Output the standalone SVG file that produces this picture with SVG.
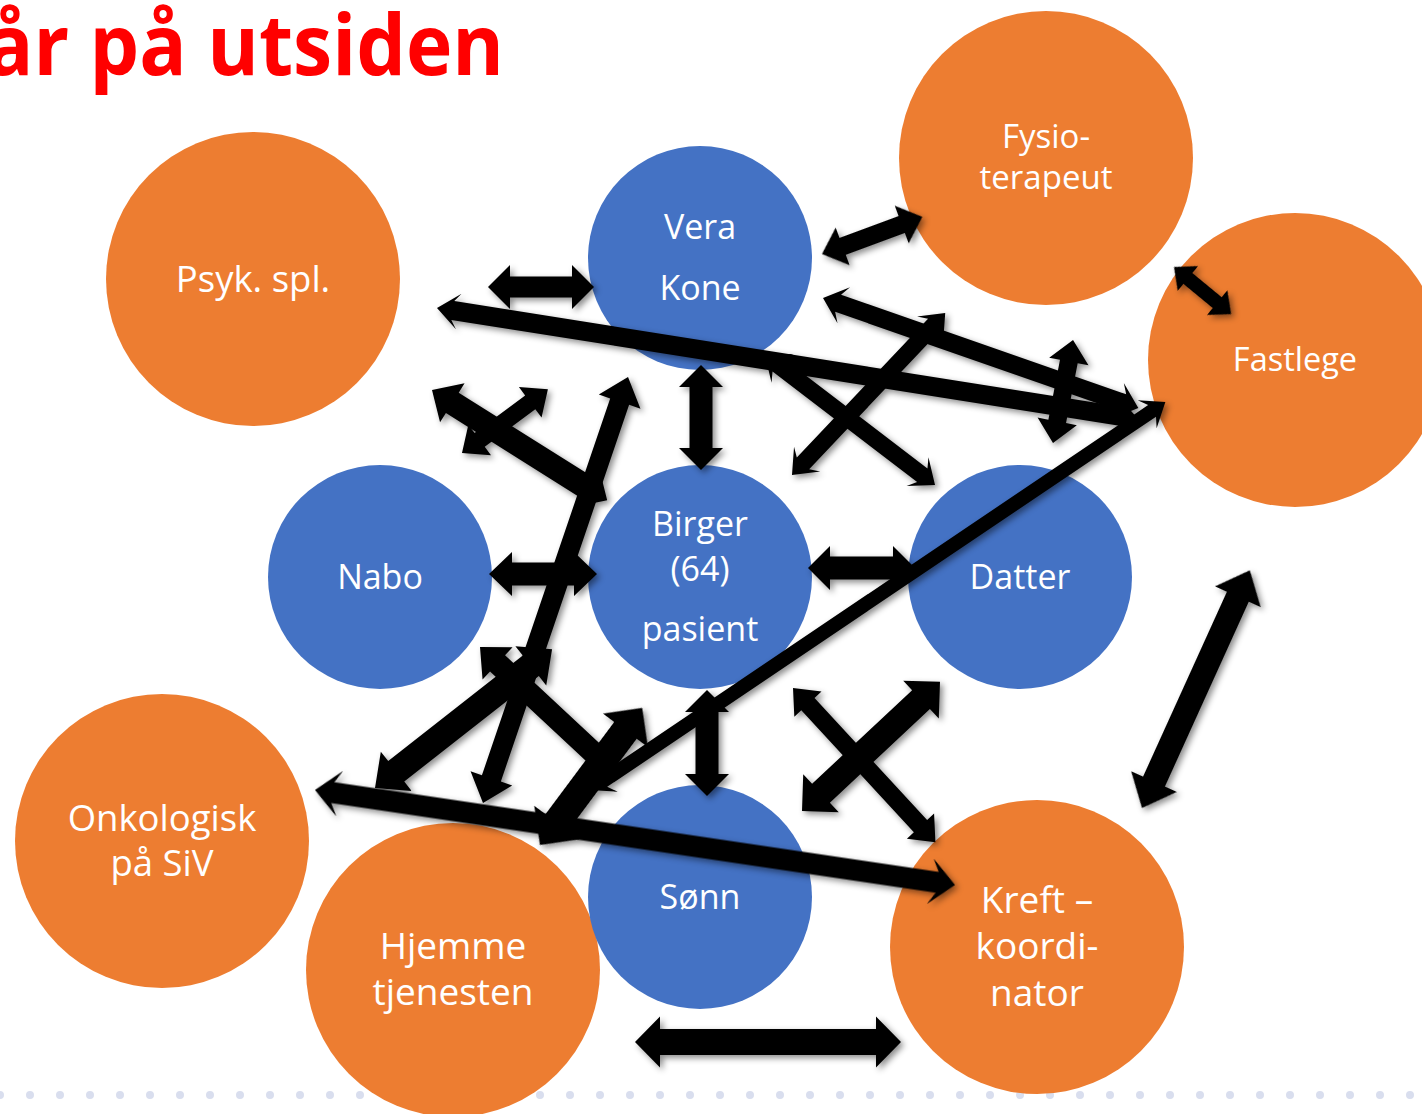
<svg xmlns="http://www.w3.org/2000/svg" width="1422" height="1114" viewBox="0 0 1422 1114">
<style>
.blue{fill:#4472C4}
.orange{fill:#ED7D31}
.lbl{font-family:"Open Sans","Liberation Sans",sans-serif;font-size:34px;fill:#FFFFFF;text-anchor:middle}
.big{font-size:37px}
.mid{font-size:36.5px}
.sm{font-size:33px}
.xs{font-size:32.5px}
.title{font-family:"Open Sans","Liberation Sans",sans-serif;font-weight:bold;font-size:84px;fill:#FF0000}
.arr path{fill:#000000}
</style>
<defs>
<filter id="sh" x="-10%" y="-10%" width="120%" height="120%">
<feDropShadow dx="3" dy="3" stdDeviation="3" flood-color="#000" flood-opacity="0.45"/>
</filter>
</defs>
<rect width="1422" height="1114" fill="#FFFFFF"/>
<line x1="0" y1="1095" x2="1422" y2="1095" stroke="#D9DEEE" stroke-width="8" stroke-linecap="round" stroke-dasharray="0 30"/>
<text class="title" x="-14" y="75" textLength="518" lengthAdjust="spacingAndGlyphs">år på utsiden</text>

<g id="node-psyk"><circle class="orange" cx="253" cy="279" r="147"/><text class="lbl mid" x="253" y="292">Psyk. spl.</text></g>
<g id="node-vera"><circle class="blue" cx="700" cy="258" r="112"/><text class="lbl" x="700" y="239">Vera</text><text class="lbl" x="700" y="300">Kone</text></g>
<g id="node-fysio"><circle class="orange" cx="1046" cy="158" r="147"/><text class="lbl sm" x="1046" y="148">Fysio-</text><text class="lbl sm" x="1046" y="189">terapeut</text></g>
<g id="node-fastlege"><circle class="orange" cx="1295" cy="360" r="147"/><text class="lbl xs" x="1295" y="371">Fastlege</text></g>
<g id="node-nabo"><circle class="blue" cx="380" cy="577" r="112"/><text class="lbl" x="380" y="589">Nabo</text></g>
<g id="node-birger"><circle class="blue" cx="700" cy="577" r="112"/><text class="lbl" x="700" y="536">Birger</text><text class="lbl" x="700" y="581">(64)</text><text class="lbl" x="700" y="641">pasient</text></g>
<g id="node-datter"><circle class="blue" cx="1020" cy="577" r="112"/><text class="lbl" x="1020" y="589">Datter</text></g>
<g id="node-onkologisk"><circle class="orange" cx="162" cy="841" r="147"/><text class="lbl mid" x="162" y="831">Onkologisk</text><text class="lbl mid" x="162" y="876">på SiV</text></g>
<g id="node-hjemme"><circle class="orange" cx="453" cy="970" r="147"/><text class="lbl big" x="453" y="959">Hjemme</text><text class="lbl big" x="453" y="1005">tjenesten</text></g>
<g id="node-sonn"><circle class="blue" cx="700" cy="897" r="112"/><text class="lbl" x="700" y="909">Sønn</text></g>
<g id="node-kreft"><circle class="orange" cx="1037" cy="947" r="147"/><text class="lbl big" x="1037" y="913">Kreft –</text><text class="lbl big" x="1037" y="959">koordi-</text><text class="lbl big" x="1037" y="1006">nator</text></g>

<g id="connectors" class="arr" filter="url(#sh)">
<path transform="translate(488 287)" d="M0 0L22 -22L22 -10.5L84 -10.5L84 -22L106 0L84 22L84 10.5L22 10.5L22 22Z"/>
<path transform="translate(822 254) rotate(-20.3)" d="M0 0L22 -20L22 -9L85 -9L85 -20L107 0L85 20L85 9L22 9L22 20Z"/>
<path transform="translate(1174 267) rotate(39.5)" d="M0 0L18 -16L18 -7L56 -7L56 -16L74 0L56 16L56 7L18 7L18 16Z"/>
<path transform="translate(701 365) rotate(90)" d="M0 0L22 -22L22 -11.5L83 -11.5L83 -22L105 0L83 22L83 11.5L22 11.5L22 22Z"/>
<path transform="translate(489 574)" d="M0 0L23 -22L23 -11.5L85 -11.5L85 -22L108 0L85 22L85 11.5L23 11.5L23 22Z"/>
<path transform="translate(808 568)" d="M0 0L22 -22L22 -11.5L85 -11.5L85 -22L107 0L85 22L85 11.5L22 11.5L22 22Z"/>
<path transform="translate(707 690) rotate(90)" d="M0 0L22 -22L22 -11.5L84 -11.5L84 -22L106 0L84 22L84 11.5L22 11.5L22 22Z"/>
<path transform="translate(635 1042)" d="M0 0L25 -25.5L25 -13L241 -13L241 -25.5L266 0L241 25.5L241 13L25 13L25 25.5Z"/>
<path transform="translate(1142 808) rotate(-65.6)" d="M0 0L29 -25L29 -12L232 -12L232 -25L261 0L232 25L232 12L29 12L29 25Z"/>
<path transform="translate(793 688) rotate(47.3)" d="M0 0L22 -18.5L22 -9L188 -9L188 -18.5L210 0L188 18.5L188 9L22 9L22 18.5Z"/>
<path transform="translate(802 811) rotate(-43.1)" d="M0 0L26 -26L26 -13L163 -13L163 -26L189 0L163 26L163 13L26 13L26 26Z"/>
<path transform="translate(462 453) rotate(-36.6)" d="M0 0L22 -19L22 -8.5L85 -8.5L85 -19L107 0L85 19L85 8.5L22 8.5L22 19Z"/>
<path transform="translate(432 390) rotate(32.2)" d="M0 0L24 -23L24 -12L183 -12L183 -23L207 0L183 23L183 12L24 12L24 23Z"/>
<path transform="translate(483 803) rotate(-71.2)" d="M0 0L26 -22L26 -10L424 -10L424 -22L450 0L424 22L424 10L26 10L26 22Z"/>
<path transform="translate(1053 443) rotate(-79)" d="M0 0L22 -20L22 -9L83 -9L83 -20L105 0L83 20L83 9L22 9L22 20Z"/>
<path transform="translate(437 308) rotate(9.0)" d="M0 0L22 -18L16 -9.5L694 -9.5L688 -18L710 0L688 18L694 9.5L16 9.5L22 18Z"/>
<path transform="translate(823 298) rotate(19.25)" d="M0 0L22 -19L16 -9L318 -9L312 -19L334 0L312 19L318 9L16 9L22 19Z"/>
<path transform="translate(792 475) rotate(-46.6)" d="M0 0L22 -18L16 -8.5L207 -8.5L201 -18L223 0L201 18L207 8.5L16 8.5L22 18Z"/>
<path transform="translate(765 355) rotate(37.4)" d="M0 0L22 -18L16 -8.5L198 -8.5L192 -18L214 0L192 18L198 8.5L16 8.5L22 18Z"/>
<path transform="translate(590 790) rotate(-34.0)" d="M0 0L22 -17L16 -7L678 -7L672 -17L694 0L672 17L678 7L16 7L22 17Z"/>
<path transform="translate(480 647) rotate(43)" d="M0 0L24 -22L24 -11L156 -11L156 -22L180 0L156 22L156 11L24 11L24 22Z"/>
<path transform="translate(375 788) rotate(-38.1)" d="M0 0L27 -25L27 -13L198 -13L198 -25L225 0L198 25L198 13L27 13L27 25Z"/>
<path transform="translate(315 790) rotate(8.44)" d="M0 0L25 -23L18 -10.5L629 -10.5L622 -23L647 0L622 23L629 10.5L18 10.5L25 23Z"/>
<path transform="translate(540 845) rotate(-53.3)" d="M0 0L28 -28L28 -14L143 -14L143 -28L171 0L143 28L143 14L28 14L28 28Z"/>
</g>
</svg>
